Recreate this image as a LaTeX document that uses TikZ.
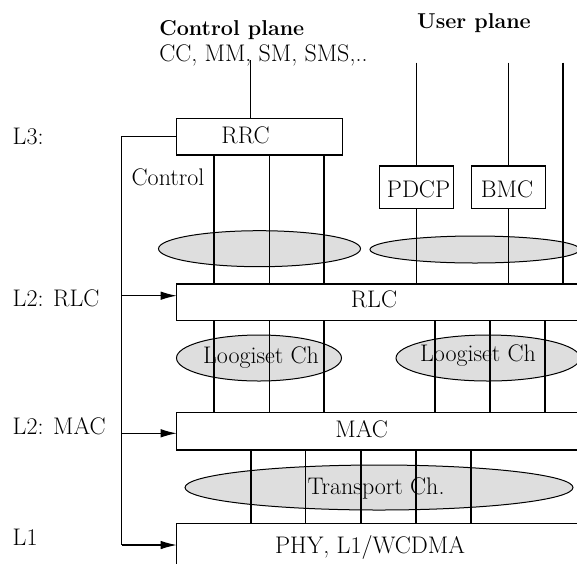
\documentclass[tikz,border=0pt]{standalone}
\usetikzlibrary{shapes.geometric,arrows.meta}
\begin{document}
\begin{tikzpicture}[x=1pt,y=-1pt,
  every node/.style={font=\fontsize{24}{28}\selectfont, inner sep=0pt, outer sep=0pt},
  box/.style={draw, line width=1.2pt, rectangle},
  ell/.style={draw, line width=1pt, ellipse, fill=black!13},
  ln/.style={line width=1.1pt},
  arr/.style={line width=1.1pt, -{Latex[length=16pt,width=8.5pt]}},
  txt/.style={anchor=base},
  lbl/.style={anchor=base west}]
\useasboundingbox (0,0) rectangle (577,563);
% boxes
\node[box, minimum width=166pt, minimum height=36.7pt] (rrc) at (259.7,136.7) {};
\node[box, minimum width=74.3pt, minimum height=42.3pt] (pdcp) at (416.3,187.2) {};
\node[box, minimum width=73.7pt, minimum height=42.3pt] (bmc) at (508.3,187.2) {};
\node[box, minimum width=463.3pt, minimum height=36.7pt] (rlc) at (408.35,302.35) {};
\node[box, minimum width=463.3pt, minimum height=37.7pt] (mac) at (408.35,431.15) {};
\node[box, minimum width=463.3pt, minimum height=80pt] (phy) at (408.35,563.3) {};
% ellipses
\node[ell, minimum width=202pt, minimum height=36pt] (e1) at (259.5,248.7) {};
\node[ell, minimum width=210pt, minimum height=27pt] (e2) at (475,249.5) {};
\node[ell, minimum width=165pt, minimum height=46pt] (lg1) at (259,358) {};
\node[ell, minimum width=184pt, minimum height=46pt] (lg2) at (488,358) {};
\node[ell, minimum width=388pt, minimum height=45pt] (tr) at (379,487.5) {};
% texts
\node[lbl, font=\fontsize{21.5}{25}\selectfont\bfseries] (tcp) at (159.3,35) {Control plane};
\node[txt, font=\fontsize{21.5}{25}\selectfont\bfseries] (tup) at (474,28) {User plane};
\node[lbl] (tcc) at (159.3,61) {CC, MM, SM, SMS,..};
\node[lbl] (l3) at (12.7,144) {L3:};
\node[lbl] (l2r) at (12.7,306.7) {L2: RLC};
\node[lbl] (l2m) at (12.7,434) {L2: MAC};
\node[lbl] (l1) at (12.7,545.7) {L1};
\node[txt] (trrc) at (245.5,143.3) {RRC};
\node[lbl] (tctl) at (131.7,185) {Control};
\node[txt] (tpdcp) at (418.5,197.3) {PDCP};
\node[txt] (tbmc) at (507,197.3) {BMC};
\node[txt] (trlc) at (374,307) {RLC};
\node[txt] (tlg1) at (261,363.3) {Loogiset Ch};
\node[txt] (tlg2) at (478,361.7) {Loogiset Ch};
\node[txt] (tmac) at (361.7,437) {MAC};
\node[txt] (ttr) at (376,494) {Transport Ch.};
\node[txt] (tphy) at (370,553) {PHY, L1/WCDMA};
% control plane entry
\coordinate (cp) at (250.7,60);
\draw[ln] (cp) -- (rrc.north -| cp);
% control lines
\coordinate (cv) at (121.7,545);
\coordinate (brl) at (121.7,295.7);
\coordinate (bmac) at (121.7,433.3);
\draw[ln] (rrc.west) -| (cv);
\draw[arr] (cv) -- (cv -| phy.west);
\draw[arr] (brl) -- (brl -| rlc.west);
\draw[arr] (bmac) -- (bmac -| mac.west);
% RRC to RLC
\foreach \x in {214,269.3,324}{
  \coordinate (t) at (\x,0);
  \draw[ln] (rrc.south -| t) -- (rlc.north -| t);
}
% user plane
\coordinate (up1) at (416.3,62.7);
\coordinate (up2) at (508.3,62.7);
\coordinate (up3) at (563,62.7);
\draw[ln] (up1) -- (pdcp.north);
\draw[ln] (pdcp.south) -- (rlc.north -| pdcp.south);
\draw[ln] (up2) -- (bmc.north);
\draw[ln] (bmc.south) -- (rlc.north -| bmc.south);
\draw[ln] (up3) -- (rlc.north -| up3);
% RLC to MAC
\foreach \x in {214,269.3,324,435,490,545}{
  \coordinate (t) at (\x,0);
  \draw[ln] (rlc.south -| t) -- (mac.north -| t);
}
% MAC to PHY
\foreach \x in {251,305.7,361,416,471}{
  \coordinate (t) at (\x,0);
  \draw[ln] (mac.south -| t) -- (phy.north -| t);
}
\end{tikzpicture}
\end{document}
